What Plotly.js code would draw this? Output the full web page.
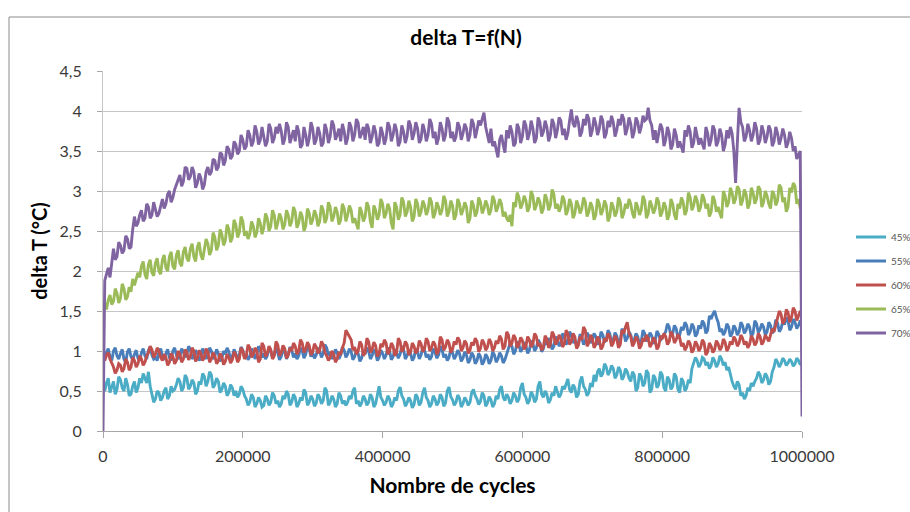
<!DOCTYPE html>
<html>
<head>
<meta charset="utf-8">
<script src="https://cdn.plot.ly/plotly-3.0.1.min.js"></script>
<style>html,body{margin:0;padding:0;background:#fff;}#chart{width:910px;height:512px;}</style>
</head>
<body>
<div id="chart"></div>
<script>
// Series names (legend labels)
const seriesNames = ['45%', '55%', '60%', '65%', '70%'];
// Sampling step of the read values, in cycles
const cycleStep = 2500;
// x tick labels
const xTicks = [0, 200000, 400000, 600000, 800000, 1000000];

// delta T (°C) values, one every 2500 cycles (0 .. 1 000 000), 20 values per 50 000 cycles
const pct45 = [
 0.55,
 0.50, 0.60, 0.66, 0.48, 0.56, 0.62, 0.46, 0.52, 0.68, 0.64, 0.54, 0.50, 0.66, 0.58, 0.44, 0.46, 0.56, 0.62, 0.48, 0.54,
 0.66, 0.60, 0.72, 0.66, 0.60, 0.74, 0.56, 0.46, 0.36, 0.40, 0.50, 0.48, 0.38, 0.42, 0.50, 0.54, 0.40, 0.44, 0.56, 0.50,
 0.52, 0.58, 0.66, 0.62, 0.50, 0.54, 0.70, 0.66, 0.52, 0.56, 0.64, 0.60, 0.46, 0.50, 0.62, 0.58, 0.72, 0.68, 0.56, 0.62,
 0.74, 0.70, 0.54, 0.58, 0.66, 0.62, 0.48, 0.52, 0.60, 0.56, 0.44, 0.48, 0.58, 0.54, 0.44, 0.50, 0.42, 0.46, 0.56, 0.52,
 0.44, 0.40, 0.32, 0.36, 0.46, 0.42, 0.30, 0.34, 0.42, 0.38, 0.30, 0.32, 0.44, 0.40, 0.32, 0.36, 0.48, 0.44, 0.34, 0.38,
 0.30, 0.34, 0.44, 0.40, 0.50, 0.46, 0.32, 0.36, 0.46, 0.42, 0.30, 0.34, 0.42, 0.38, 0.52, 0.48, 0.32, 0.36, 0.44, 0.40,
 0.31, 0.35, 0.46, 0.42, 0.34, 0.38, 0.54, 0.50, 0.32, 0.36, 0.44, 0.40, 0.30, 0.34, 0.48, 0.44, 0.34, 0.38, 0.32, 0.36,
 0.44, 0.40, 0.50, 0.54, 0.34, 0.38, 0.31, 0.35, 0.44, 0.40, 0.32, 0.36, 0.46, 0.42, 0.30, 0.34, 0.48, 0.56, 0.42, 0.38,
 0.32, 0.36, 0.44, 0.40, 0.30, 0.34, 0.42, 0.38, 0.50, 0.55, 0.44, 0.40, 0.31, 0.35, 0.42, 0.38, 0.29, 0.33, 0.46, 0.42,
 0.32, 0.36, 0.48, 0.54, 0.42, 0.38, 0.30, 0.34, 0.44, 0.40, 0.32, 0.36, 0.46, 0.42, 0.31, 0.35, 0.50, 0.55, 0.43, 0.39,
 0.32, 0.36, 0.45, 0.41, 0.30, 0.34, 0.42, 0.38, 0.32, 0.36, 0.48, 0.52, 0.44, 0.40, 0.33, 0.37, 0.48, 0.44, 0.31, 0.35,
 0.43, 0.39, 0.30, 0.34, 0.44, 0.40, 0.52, 0.56, 0.42, 0.38, 0.46, 0.42, 0.34, 0.38, 0.48, 0.44, 0.36, 0.40, 0.54, 0.60,
 0.46, 0.42, 0.34, 0.38, 0.49, 0.45, 0.36, 0.40, 0.56, 0.62, 0.46, 0.42, 0.50, 0.46, 0.35, 0.39, 0.48, 0.44, 0.56, 0.50,
 0.42, 0.46, 0.56, 0.52, 0.60, 0.65, 0.52, 0.48, 0.58, 0.54, 0.42, 0.46, 0.62, 0.68, 0.56, 0.52, 0.44, 0.48, 0.60, 0.55,
 0.70, 0.62, 0.74, 0.78, 0.68, 0.72, 0.84, 0.80, 0.70, 0.74, 0.82, 0.78, 0.66, 0.70, 0.80, 0.76, 0.64, 0.68, 0.78, 0.74,
 0.66, 0.62, 0.74, 0.70, 0.50, 0.54, 0.72, 0.68, 0.56, 0.60, 0.76, 0.72, 0.48, 0.52, 0.70, 0.66, 0.54, 0.58, 0.74, 0.70,
 0.54, 0.50, 0.68, 0.64, 0.52, 0.56, 0.72, 0.68, 0.52, 0.48, 0.66, 0.62, 0.50, 0.54, 0.64, 0.60, 0.78, 0.84, 0.92, 0.88,
 0.80, 0.84, 0.92, 0.90, 0.82, 0.86, 0.78, 0.82, 0.92, 0.88, 0.80, 0.84, 0.94, 0.90, 0.82, 0.86, 0.76, 0.80, 0.70, 0.62,
 0.56, 0.52, 0.62, 0.58, 0.44, 0.48, 0.40, 0.44, 0.54, 0.50, 0.60, 0.56, 0.62, 0.66, 0.74, 0.70, 0.60, 0.64, 0.72, 0.68,
 0.58, 0.62, 0.74, 0.80, 0.90, 0.86, 0.80, 0.84, 0.91, 0.88, 0.82, 0.85, 0.90, 0.87, 0.81, 0.84, 0.91, 0.88, 0.83, 0.86
];
const pct55 = [
 0.95,
 0.90, 0.98, 1.03, 0.92, 0.88, 1.00, 1.04, 0.94, 0.90, 0.97, 1.02, 0.90, 0.86, 0.99, 1.03, 0.93, 0.89, 0.96, 1.01, 0.91,
 0.88, 0.98, 1.03, 0.94, 0.90, 1.01, 1.05, 0.95, 0.90, 0.92, 0.88, 0.99, 1.03, 0.94, 0.89, 0.97, 1.02, 0.92, 0.88, 1.00,
 1.04, 0.95, 0.90, 0.93, 1.03, 0.99, 0.92, 0.96, 1.06, 1.02, 0.90, 0.94, 1.01, 0.97, 0.88, 0.92, 1.03, 0.98, 0.90, 0.95,
 1.04, 1.00, 0.90, 0.94, 1.02, 0.97, 0.87, 0.91, 1.00, 0.96, 1.04, 0.99, 0.89, 0.93, 1.02, 0.97, 0.90, 0.95, 1.05, 1.01,
 0.91, 0.96, 0.89, 0.93, 1.03, 0.99, 0.90, 0.95, 1.06, 1.02, 0.92, 0.97, 0.90, 0.94, 1.04, 1.00, 0.91, 0.96, 1.03, 0.98,
 0.89, 0.93, 1.03, 0.99, 0.90, 0.95, 1.05, 1.01, 0.92, 0.97, 0.90, 0.94, 1.04, 1.00, 0.91, 0.96, 1.07, 1.03, 0.93, 0.98,
 0.91, 0.95, 1.04, 1.00, 0.92, 0.97, 1.08, 1.04, 0.94, 0.99, 0.90, 0.94, 1.02, 0.98, 0.90, 0.95, 1.05, 1.01, 0.92, 0.96,
 1.03, 0.99, 0.89, 0.93, 1.01, 0.97, 0.87, 0.91, 1.00, 0.96, 1.04, 1.00, 0.90, 0.94, 1.02, 0.98, 0.88, 0.92, 1.01, 0.97,
 0.90, 0.95, 1.04, 1.00, 0.89, 0.93, 1.02, 0.98, 0.91, 0.96, 1.06, 1.02, 0.90, 0.94, 1.01, 0.97, 0.88, 0.92, 1.03, 0.99,
 0.90, 0.95, 1.05, 1.01, 0.92, 0.96, 0.89, 0.93, 1.03, 0.99, 0.91, 0.95, 1.06, 1.02, 0.92, 0.96, 0.88, 0.92, 1.02, 0.98,
 0.90, 0.94, 1.01, 0.97, 0.87, 0.91, 0.99, 0.95, 0.85, 0.89, 0.98, 0.94, 0.84, 0.88, 0.97, 0.93, 0.83, 0.87, 0.96, 0.92,
 0.84, 0.88, 0.99, 0.95, 0.86, 0.90, 0.98, 0.94, 0.85, 0.89, 0.97, 1.02, 1.10, 1.06, 0.96, 1.00, 1.12, 1.08, 0.99, 1.03,
 1.11, 1.07, 0.97, 1.01, 1.13, 1.09, 1.00, 1.04, 1.14, 1.10, 0.99, 1.03, 1.12, 1.08, 1.16, 1.12, 1.02, 1.06, 1.18, 1.14,
 1.06, 1.10, 1.22, 1.18, 1.08, 1.12, 1.24, 1.20, 1.10, 1.14, 1.06, 1.10, 1.21, 1.17, 1.08, 1.12, 1.23, 1.19, 1.10, 1.14,
 1.22, 1.18, 1.08, 1.12, 1.24, 1.20, 1.11, 1.15, 1.26, 1.22, 1.10, 1.14, 1.23, 1.19, 1.09, 1.13, 1.28, 1.24, 1.12, 1.16,
 1.24, 1.20, 1.10, 1.14, 1.22, 1.18, 1.08, 1.12, 1.26, 1.22, 1.12, 1.16, 1.23, 1.19, 1.09, 1.13, 1.25, 1.21, 1.13, 1.17,
 1.20, 1.24, 1.34, 1.30, 1.18, 1.22, 1.32, 1.28, 1.16, 1.20, 1.30, 1.26, 1.36, 1.32, 1.20, 1.24, 1.34, 1.30, 1.18, 1.22,
 1.32, 1.28, 1.38, 1.34, 1.22, 1.26, 1.44, 1.40, 1.46, 1.50, 1.42, 1.36, 1.24, 1.28, 1.20, 1.24, 1.34, 1.30, 1.18, 1.22,
 1.32, 1.28, 1.20, 1.24, 1.36, 1.32, 1.22, 1.26, 1.34, 1.30, 1.18, 1.22, 1.38, 1.34, 1.23, 1.27, 1.34, 1.30, 1.20, 1.24,
 1.36, 1.32, 1.22, 1.26, 1.39, 1.35, 1.24, 1.28, 1.37, 1.33, 1.42, 1.38, 1.26, 1.30, 1.40, 1.36, 1.28, 1.32, 1.38, 1.34
];
const pct60 = [
 0.92,
 0.88, 0.95, 0.98, 0.90, 0.85, 0.80, 0.72, 0.76, 0.84, 0.82, 0.74, 0.78, 0.90, 0.86, 0.76, 0.80, 0.92, 0.88, 0.80, 0.84,
 0.94, 0.90, 0.82, 0.86, 0.94, 0.98, 1.06, 1.02, 0.92, 0.96, 1.04, 1.00, 0.92, 0.88, 0.96, 0.92, 0.82, 0.86, 0.97, 0.93,
 0.84, 0.88, 1.00, 0.96, 0.86, 0.90, 1.02, 0.98, 0.89, 0.93, 1.04, 1.00, 0.87, 0.91, 1.01, 0.97, 0.88, 0.92, 1.03, 0.99,
 0.86, 0.90, 0.98, 0.94, 0.84, 0.88, 0.97, 0.93, 0.83, 0.87, 0.96, 0.92, 0.85, 0.89, 0.99, 0.95, 0.86, 0.90, 1.04, 1.00,
 0.90, 0.94, 1.08, 1.04, 0.92, 0.96, 1.04, 1.00, 0.86, 0.90, 1.10, 1.06, 0.93, 0.97, 1.06, 1.02, 0.90, 0.94, 1.12, 1.08,
 0.94, 0.98, 1.07, 1.03, 0.91, 0.95, 1.04, 1.00, 1.10, 1.06, 0.96, 1.00, 1.14, 1.10, 0.98, 1.02, 1.11, 1.07, 0.95, 0.99,
 1.09, 1.05, 0.97, 1.01, 1.12, 1.08, 0.98, 0.94, 0.88, 0.92, 1.00, 0.96, 0.86, 0.90, 0.99, 0.95, 1.04, 1.10, 1.26, 1.22,
 1.18, 1.14, 1.01, 1.05, 0.96, 1.00, 1.12, 1.08, 0.94, 0.98, 1.16, 1.12, 0.98, 1.02, 1.11, 1.07, 0.93, 0.97, 1.09, 1.05,
 1.14, 1.10, 0.96, 1.00, 1.10, 1.06, 0.94, 0.98, 1.16, 1.12, 0.99, 1.03, 1.12, 1.08, 0.95, 0.99, 1.10, 1.06, 0.97, 1.01,
 1.13, 1.09, 0.99, 1.03, 1.16, 1.12, 1.00, 1.04, 1.12, 1.08, 0.96, 1.00, 1.18, 1.14, 1.01, 1.05, 1.14, 1.10, 0.98, 1.02,
 1.12, 1.08, 1.17, 1.13, 1.00, 1.04, 1.13, 1.09, 0.97, 1.01, 1.11, 1.07, 1.16, 1.12, 0.99, 1.03, 1.14, 1.10, 1.01, 1.05,
 1.15, 1.11, 1.00, 1.04, 1.13, 1.09, 1.19, 1.15, 1.02, 1.06, 1.24, 1.20, 1.06, 1.10, 1.20, 1.16, 1.04, 1.08, 1.17, 1.13,
 1.02, 1.06, 1.18, 1.14, 1.05, 1.09, 1.22, 1.18, 1.06, 1.10, 1.01, 1.05, 1.19, 1.15, 1.04, 1.08, 1.24, 1.20, 1.08, 1.12,
 1.20, 1.16, 1.05, 1.09, 1.26, 1.22, 1.08, 1.12, 1.22, 1.18, 1.03, 1.07, 1.18, 1.14, 1.30, 1.26, 1.06, 1.10, 1.20, 1.16,
 1.04, 1.08, 1.18, 1.14, 1.02, 1.06, 1.16, 1.12, 1.22, 1.18, 1.06, 1.10, 1.19, 1.15, 1.04, 1.08, 1.26, 1.22, 1.30, 1.36,
 1.22, 1.18, 1.06, 1.10, 1.18, 1.14, 1.03, 1.07, 1.16, 1.12, 1.20, 1.16, 1.05, 1.09, 1.17, 1.13, 1.02, 1.06, 1.19, 1.15,
 1.22, 1.18, 1.08, 1.12, 1.24, 1.20, 1.10, 1.14, 1.21, 1.17, 1.06, 1.10, 1.01, 1.05, 1.13, 1.09, 0.98, 1.02, 1.12, 1.08,
 1.00, 1.04, 1.14, 1.10, 0.95, 0.99, 1.10, 1.06, 0.98, 1.02, 1.13, 1.09, 1.01, 1.05, 1.15, 1.11, 1.00, 1.04, 1.12, 1.08,
 1.18, 1.14, 1.06, 1.10, 1.20, 1.16, 1.08, 1.12, 1.04, 1.08, 1.19, 1.15, 1.07, 1.11, 1.22, 1.18, 1.08, 1.12, 1.20, 1.16,
 1.12, 1.20, 1.28, 1.24, 1.34, 1.40, 1.50, 1.46, 1.34, 1.38, 1.52, 1.48, 1.36, 1.42, 1.54, 1.50, 1.38, 1.44, 1.50, 1.46
];
const pct65 = [
 1.45,
 1.60, 1.52, 1.64, 1.70, 1.58, 1.62, 1.78, 1.72, 1.60, 1.66, 1.84, 1.78, 1.64, 1.68, 1.80, 1.74, 1.90, 1.82, 1.92, 1.98,
 1.92, 2.06, 2.12, 1.96, 1.90, 2.08, 2.14, 1.98, 1.94, 2.10, 2.16, 2.00, 1.96, 2.14, 2.20, 2.04, 2.00, 2.18, 2.24, 2.06,
 2.02, 2.20, 2.26, 2.10, 2.06, 2.24, 2.30, 2.16, 2.12, 2.28, 2.34, 2.18, 2.12, 2.30, 2.36, 2.20, 2.14, 2.26, 2.40, 2.34,
 2.20, 2.26, 2.48, 2.42, 2.26, 2.32, 2.52, 2.46, 2.32, 2.38, 2.58, 2.52, 2.36, 2.42, 2.64, 2.58, 2.42, 2.48, 2.68, 2.62,
 2.44, 2.50, 2.40, 2.46, 2.62, 2.56, 2.42, 2.48, 2.66, 2.60, 2.46, 2.54, 2.72, 2.66, 2.50, 2.56, 2.76, 2.70, 2.52, 2.60,
 2.72, 2.66, 2.52, 2.58, 2.76, 2.70, 2.56, 2.62, 2.80, 2.74, 2.54, 2.60, 2.74, 2.68, 2.50, 2.56, 2.78, 2.72, 2.58, 2.64,
 2.76, 2.70, 2.56, 2.62, 2.82, 2.76, 2.60, 2.66, 2.86, 2.80, 2.62, 2.68, 2.80, 2.74, 2.58, 2.64, 2.84, 2.78, 2.62, 2.70,
 2.82, 2.76, 2.60, 2.66, 2.58, 2.52, 2.80, 2.74, 2.62, 2.68, 2.86, 2.80, 2.62, 2.54, 2.82, 2.76, 2.64, 2.70, 2.90, 2.84,
 2.66, 2.72, 2.84, 2.78, 2.60, 2.52, 2.86, 2.80, 2.64, 2.70, 2.92, 2.86, 2.68, 2.74, 2.88, 2.80, 2.62, 2.68, 2.90, 2.84,
 2.68, 2.74, 2.88, 2.82, 2.70, 2.76, 2.92, 2.86, 2.66, 2.72, 2.86, 2.80, 2.70, 2.76, 2.94, 2.88, 2.68, 2.74, 2.88, 2.82,
 2.64, 2.70, 2.90, 2.84, 2.70, 2.76, 2.86, 2.80, 2.60, 2.66, 2.88, 2.82, 2.68, 2.74, 2.92, 2.86, 2.72, 2.78, 2.88, 2.82,
 2.70, 2.76, 2.94, 2.88, 2.74, 2.80, 2.90, 2.84, 2.68, 2.74, 2.66, 2.62, 2.70, 2.56, 2.86, 2.80, 2.98, 2.92, 2.78, 2.84,
 2.94, 2.88, 2.74, 2.80, 3.00, 2.94, 2.76, 2.82, 2.92, 2.86, 2.72, 2.78, 2.96, 2.90, 2.76, 2.82, 3.02, 2.96, 2.78, 2.84,
 2.74, 2.80, 2.94, 2.88, 2.70, 2.76, 2.90, 2.84, 2.66, 2.72, 2.88, 2.82, 2.72, 2.78, 2.92, 2.86, 2.68, 2.74, 2.86, 2.80,
 2.64, 2.70, 2.90, 2.84, 2.70, 2.76, 2.88, 2.82, 2.62, 2.68, 2.86, 2.80, 2.68, 2.74, 2.92, 2.86, 2.66, 2.72, 2.84, 2.78,
 2.90, 2.84, 2.72, 2.66, 2.86, 2.80, 2.70, 2.76, 2.94, 2.88, 2.66, 2.72, 2.88, 2.82, 2.72, 2.78, 2.92, 2.86, 2.68, 2.74,
 2.86, 2.80, 2.64, 2.70, 2.90, 2.84, 2.70, 2.64, 2.84, 2.78, 2.92, 2.86, 2.70, 2.76, 2.98, 2.92, 2.76, 2.82, 2.94, 2.88,
 2.74, 2.80, 2.96, 2.90, 2.78, 2.84, 2.68, 2.74, 2.94, 2.88, 2.74, 2.80, 2.72, 2.66, 3.00, 2.94, 2.80, 2.86, 3.04, 2.98,
 2.84, 2.90, 3.06, 3.02, 2.82, 2.88, 3.02, 2.96, 2.78, 2.84, 3.04, 2.98, 2.84, 2.90, 3.06, 3.02, 2.80, 2.86, 3.00, 2.94,
 2.84, 2.78, 3.00, 2.96, 2.82, 2.88, 3.08, 3.04, 2.86, 2.92, 2.74, 2.80, 3.04, 2.98, 3.10, 3.06, 2.84, 2.90, 2.78, 2.84
];
const pct70 = [
 0.00,
 1.88, 1.96, 2.04, 1.92, 2.10, 2.28, 2.14, 2.18, 2.36, 2.32, 2.22, 2.26, 2.44, 2.40, 2.28, 2.30, 2.52, 2.68, 2.56, 2.60,
 2.70, 2.76, 2.62, 2.66, 2.84, 2.80, 2.66, 2.70, 2.86, 2.78, 2.68, 2.72, 2.82, 2.90, 2.78, 2.84, 2.96, 3.00, 2.86, 2.92,
 3.02, 3.08, 3.16, 3.20, 3.06, 3.12, 3.30, 3.28, 3.14, 3.18, 3.30, 3.24, 3.04, 3.10, 3.22, 3.16, 3.02, 3.08, 3.24, 3.30,
 3.20, 3.24, 3.40, 3.38, 3.26, 3.30, 3.48, 3.46, 3.32, 3.38, 3.56, 3.52, 3.40, 3.44, 3.62, 3.58, 3.46, 3.50, 3.70, 3.64,
 3.52, 3.56, 3.76, 3.70, 3.56, 3.62, 3.82, 3.74, 3.58, 3.64, 3.80, 3.70, 3.56, 3.62, 3.84, 3.78, 3.60, 3.66, 3.80, 3.72,
 3.84, 3.75, 3.58, 3.65, 3.86, 3.80, 3.60, 3.68, 3.76, 3.62, 3.82, 3.74, 3.54, 3.58, 3.80, 3.70, 3.56, 3.66, 3.86, 3.78,
 3.58, 3.64, 3.80, 3.72, 3.56, 3.60, 3.84, 3.76, 3.60, 3.68, 3.88, 3.82, 3.64, 3.70, 3.78, 3.62, 3.84, 3.75, 3.58, 3.66,
 3.86, 3.80, 3.62, 3.70, 3.90, 3.85, 3.66, 3.72, 3.80, 3.64, 3.84, 3.78, 3.60, 3.68, 3.82, 3.74, 3.56, 3.60, 3.80, 3.72,
 3.58, 3.66, 3.86, 3.80, 3.62, 3.70, 3.84, 3.76, 3.56, 3.62, 3.82, 3.74, 3.60, 3.68, 3.88, 3.82, 3.64, 3.72, 3.86, 3.78,
 3.60, 3.65, 3.84, 3.76, 3.62, 3.70, 3.90, 3.84, 3.66, 3.74, 3.58, 3.66, 3.86, 3.78, 3.62, 3.70, 3.92, 3.86, 3.66, 3.74,
 3.62, 3.68, 3.86, 3.80, 3.64, 3.72, 3.84, 3.78, 3.62, 3.70, 3.90, 3.84, 3.66, 3.76, 3.88, 3.82, 3.90, 3.98, 3.80, 3.70,
 3.60, 3.78, 3.56, 3.62, 3.50, 3.42, 3.64, 3.70, 3.58, 3.48, 3.76, 3.66, 3.82, 3.74, 3.56, 3.60, 3.84, 3.78, 3.60, 3.68,
 3.88, 3.82, 3.64, 3.72, 3.88, 3.78, 3.60, 3.66, 3.92, 3.86, 3.68, 3.74, 3.88, 3.80, 3.62, 3.70, 3.90, 3.84, 3.66, 3.76,
 3.92, 3.88, 3.70, 3.78, 3.64, 3.72, 3.88, 4.02, 3.84, 3.80, 3.94, 3.86, 3.68, 3.74, 3.90, 3.82, 3.96, 3.90, 3.68, 3.76,
 3.92, 3.84, 3.70, 3.78, 3.94, 3.88, 3.66, 3.72, 3.88, 3.80, 3.94, 3.86, 3.68, 3.76, 3.90, 3.82, 3.96, 3.90, 3.70, 3.78,
 3.92, 3.84, 3.66, 3.74, 3.92, 3.86, 3.72, 3.80, 3.94, 3.88, 3.90, 4.04, 3.88, 3.82, 3.64, 3.76, 3.60, 3.70, 3.84, 3.78,
 3.56, 3.64, 3.80, 3.72, 3.52, 3.58, 3.78, 3.70, 3.54, 3.62, 3.56, 3.48, 3.76, 3.68, 3.82, 3.74, 3.54, 3.60, 3.80, 3.70,
 3.58, 3.66, 3.60, 3.52, 3.80, 3.72, 3.56, 3.64, 3.82, 3.76, 3.56, 3.62, 3.78, 3.70, 3.50, 3.58, 3.76, 3.66, 3.80, 3.72,
 3.50, 3.10, 3.60, 4.04, 3.86, 3.80, 3.62, 3.68, 3.84, 3.76, 3.62, 3.70, 3.86, 3.78, 3.58, 3.64, 3.82, 3.74, 3.60, 3.68,
 3.82, 3.76, 3.56, 3.62, 3.80, 3.72, 3.58, 3.66, 3.78, 3.70, 3.54, 3.60, 3.74, 3.66, 3.50, 3.56, 3.40, 3.45, 3.50, 0.18
];

const seriesValues = [pct45, pct55, pct60, pct65, pct70];
const colors = ['#4bacc6', '#4a7ebb', '#c0504d', '#9bbb59', '#8064a2'];

const traces = seriesValues.map((vals, k) => ({
  type: 'scatter',
  mode: 'lines',
  name: seriesNames[k],
  legendgroup: 'g' + k,
  x: vals.map((_, i) => i * cycleStep),
  y: vals,
  line: {color: colors[k], width: 2.9},
  hoverinfo: 'skip'
}));

// plot area in pixels: left 103, right 802, top 71, bottom 431
const px = v => (v - 103) / 699;
const py = v => (431 - v) / 360;

const layout = {
  width: 910,
  height: 512,
  margin: {l: 103, r: 108, t: 71, b: 81, autoexpand: false},
  paper_bgcolor: '#ffffff',
  plot_bgcolor: '#ffffff',
  separators: ', ',
  font: {family: 'Lato, "Open Sans", sans-serif', color: '#3a3a3a', size: 16},
  title: {
    text: '<b>delta T=f(N)</b>',
    font: {size: 21, color: '#000000'},
    x: 466 / 910, xref: 'container', xanchor: 'center',
    y: 1 - 38 / 512, yref: 'container', yanchor: 'middle'
  },
  xaxis: {
    range: [0, 1000000],
    tickvals: xTicks,
    ticktext: xTicks.map(String),
    showgrid: false,
    zeroline: false,
    showline: true,
    linecolor: '#a6a6a6',
    linewidth: 1,
    ticks: 'outside',
    ticklen: 6,
    tickcolor: '#a6a6a6',
    ticklabelstandoff: 5,
    tickfont: {size: 16, color: '#3a3a3a'},
    title: {text: '<b>Nombre de cycles</b>', font: {size: 21, color: '#000000'}, standoff: 14}
  },
  yaxis: {
    range: [0, 4.5],
    tick0: 0,
    dtick: 0.5,
    showgrid: true,
    gridcolor: '#c6c6c6',
    gridwidth: 1,
    zeroline: false,
    showline: true,
    linecolor: '#c6c6c6',
    ticks: 'outside',
    ticklen: 5,
    tickcolor: '#a6a6a6',
    ticklabelstandoff: 12,
    tickfont: {size: 16, color: '#3a3a3a'},
    title: {text: '<b>delta T (°C)</b>', font: {size: 20, color: '#000000'}, standoff: 6}
  },
  legend: {
    x: px(851), xanchor: 'left',
    y: py(285), yanchor: 'middle',
    font: {size: 10, color: '#555555'},
    tracegroupgap: 5,
    itemwidth: 30,
    bgcolor: 'rgba(0,0,0,0)'
  },
  shapes: [
    {type: 'line', xref: 'paper', yref: 'paper', x0: px(9), x1: px(9), y0: py(17), y1: py(515), line: {color: '#8c8c8c', width: 1}},
    {type: 'line', xref: 'paper', yref: 'paper', x0: px(9), x1: px(912), y0: py(17), y1: py(17), line: {color: '#8c8c8c', width: 1}}
  ],
  showlegend: true
};

Plotly.newPlot('chart', traces, layout, {staticPlot: true, displayModeBar: false});
</script>
</body>
</html>
